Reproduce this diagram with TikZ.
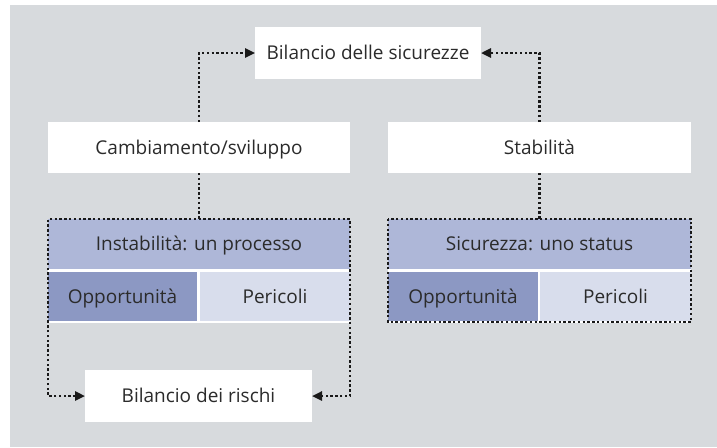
\documentclass[tikz,border=0pt]{standalone}
\usepackage{fontspec}
\setmainfont{Open Sans}
\usetikzlibrary{arrows.meta}
\definecolor{bggray}{HTML}{D7DADD}
\definecolor{headblue}{HTML}{AEB7D8}
\definecolor{oppblue}{HTML}{8C98C3}
\definecolor{perblue}{HTML}{D8DDEC}
\definecolor{txtgray}{HTML}{2B2B2B}
\tikzset{
    whitebox/.style={fill=white, inner sep=0pt, outer sep=0pt, text=txtgray,
        text height=17.6pt, text depth=4pt, font=\fontsize{19}{22}\selectfont},
    cell/.style={whitebox, minimum height=49pt},
    dots/.style={draw=black!90, line width=2.4pt, dash pattern=on 2.4pt off 2.4pt},
    arr/.style={-{Triangle[length=10pt,width=9pt]}},
    arrs/.style={{Triangle[length=10pt,width=9pt]}-{Triangle[length=10pt,width=9pt]}},
}

\begin{document}
\begin{tikzpicture}[x=1pt,y=-1pt]
    \useasboundingbox (0,0) rectangle (717,447);
    \fill[bggray] (10,5) rectangle (717,447);

    % white boxes
    \node[whitebox, minimum width=226pt, minimum height=52pt] (bilSic) at (368,53) {Bilancio delle sicurezze};
    \node[whitebox, minimum width=302pt, minimum height=51pt] (cambio) at (199,147.5) {Cambiamento/sviluppo};
    \node[whitebox, minimum width=303pt, minimum height=51pt] (stab) at (539.5,147.5) {Stabilità};
    \node[whitebox, minimum width=227pt, minimum height=52pt] (bilRis) at (198.5,396) {Bilancio dei rischi};

    % left group
    \fill[white] (48,219) rectangle (350,323);
    \node[cell, fill=headblue, minimum width=302pt, minimum height=50pt] (instab) at (199,244) {Instabilità: un processo};
    \node[cell, fill=oppblue, minimum width=149pt] (opp1) at (122.5,296.5) {Opportunità};
    \node[cell, fill=perblue, minimum width=150pt] (per1) at (275,296.5) {Pericoli};

    % right group
    \fill[white] (388,219) rectangle (691,323);
    \node[cell, fill=headblue, minimum width=303pt, minimum height=50pt] (sicur) at (539.5,244) {Sicurezza: uno status};
    \node[cell, fill=oppblue, minimum width=150pt] (opp2) at (463,296.5) {Opportunità};
    \node[cell, fill=perblue, minimum width=151pt] (per2) at (615.5,296.5) {Pericoli};

    % connectors
    \draw[dots, arr] (cambio.north) |- (bilSic.west);
    \draw[dots, arr] (stab.north) |- (bilSic.east);
    \draw[dots] (cambio.south) -- (instab.north);
    \draw[dots] (stab.south) -- (sicur.north);
    \draw[dots, arrs] (bilRis.west) -| (instab.north west) -- (instab.north east) |- (bilRis.east);
    \draw[dots] (sicur.north west) rectangle ([yshift=-1pt]per2.south east);
\end{tikzpicture}
\end{document}
